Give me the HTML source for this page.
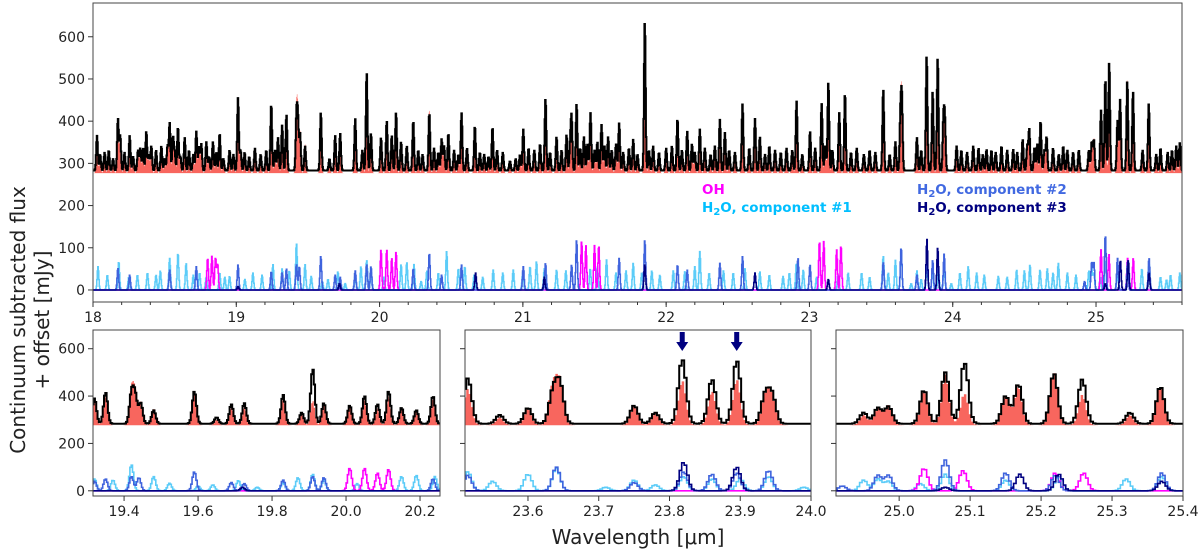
<!DOCTYPE html>
<html>
<head>
<meta charset="utf-8">
<style>
html,body{margin:0;padding:0;background:#fff;}
svg{display:block;font-family:"DejaVu Sans","Liberation Sans",sans-serif;}
.tick{font-size:14px;fill:#222;}
.leg{font-size:13.5px;font-weight:bold;}
</style>
</head>
<body>
<svg id="chart" width="1200" height="552" viewBox="0 0 1200 552" xmlns="http://www.w3.org/2000/svg">
  <g id="panels"></g>
  <text transform="translate(25,320) rotate(-90)" text-anchor="middle" font-size="20" fill="#222">Continuum subtracted flux</text>
  <text transform="translate(49,320) rotate(-90)" text-anchor="middle" font-size="20" fill="#222">+ offset [mJy]</text>
  <text x="638" y="544" text-anchor="middle" font-size="20" fill="#222">Wavelength [μm]</text>
  <g>
    <text class="leg" x="702" y="194" fill="#ff00ff">OH</text>
    <text class="leg" x="702" y="212" fill="#00bfff">H<tspan font-size="10" dy="3">2</tspan><tspan dy="-3">O, component #1</tspan></text>
    <text class="leg" x="917" y="194" fill="#4169e1">H<tspan font-size="10" dy="3">2</tspan><tspan dy="-3">O, component #2</tspan></text>
    <text class="leg" x="917" y="212" fill="#000080">H<tspan font-size="10" dy="3">2</tspan><tspan dy="-3">O, component #3</tspan></text>
  </g>
</svg>
<script>
// ---- data: observed / model line peaks (wavelength µm, flux mJy incl. offset) ----
const obsLambda = [18.028,18.081,18.174,18.19,18.256,18.314,18.349,18.372,18.407,18.477,18.535,18.558,18.593,18.64,18.721,18.756,18.791,18.837,18.884,18.953,19.012,19.058,19.209,19.244,19.291,
19.32,19.35,19.42,19.43,19.445,19.48,19.59,19.65,19.69,19.725,19.83,19.88,19.91,19.94,20.01,20.05,20.085,20.115,20.15,20.19,20.235,
20.347,20.433,20.48,20.572,20.665,20.788,20.91,21.003,21.158,21.235,21.305,21.34,21.375,21.426,21.472,21.549,21.595,21.672,21.77,21.851,21.909,22.079,22.147,22.235,22.375,22.41,22.533,22.62,22.654,22.91,23.004,23.085,23.132,23.208,23.248,
23.515,23.56,23.6,23.635,23.645,23.75,23.78,23.818,23.86,23.895,23.935,23.945,
24.027,24.143,24.236,24.422,24.488,24.534,24.613,24.655,24.771,
24.95,24.97,24.985,25.035,25.065,25.092,25.15,25.168,25.218,25.258,25.325,25.368,25.585];
const obsFlux = [365,325,405,365,365,330,335,375,340,340,395,360,385,360,375,345,350,350,370,330,455,325,330,440,360,
390,415,410,400,370,340,420,310,365,370,405,330,515,370,360,400,365,420,350,340,400,
419,357,370,419,388,385,305,380,453,362,367,405,441,362,419,391,362,395,356,636,340,405,375,380,403,372,440,405,362,447,375,441,492,419,466,
475,320,350,410,450,360,330,555,470,550,400,400,
340,340,332,332,356,380,400,362,340,
330,350,355,425,500,540,400,450,495,470,330,440,348];
const modelFlux = [355,320,395,360,355,325,330,370,335,335,385,355,380,355,370,340,345,345,360,325,440,320,325,425,350,
385,405,425,410,375,345,420,300,355,355,395,325,380,370,360,390,350,400,345,340,390,
430,350,365,405,375,375,300,370,440,355,360,395,430,365,405,380,355,390,350,430,335,395,365,370,395,365,425,400,355,430,365,430,470,405,455,
430,310,345,430,450,355,325,465,420,470,395,395,
335,335,325,325,350,370,390,355,335,
320,345,360,420,490,410,400,440,500,405,320,440,340];
// weaker lines of the observed forest (outside zoom panels)
const weakLambda = [18.05,18.11,18.14,18.22,18.28,18.33,18.39,18.44,18.5,18.52,18.57,18.61,18.67,18.7,18.74,18.81,18.86,18.91,18.98,19.03,19.09,19.13,19.17,19.27,
20.27,20.3,20.38,20.41,20.45,20.52,20.55,20.61,20.7,20.73,20.76,20.82,20.86,20.95,20.98,21.04,21.08,21.12,21.19,21.27,21.33,21.4,21.45,21.5,21.52,21.57,21.62,21.65,21.7,21.74,21.8,21.88,21.95,22.0,22.04,22.11,22.18,22.2,22.27,22.31,22.34,22.44,22.48,22.58,22.69,22.72,22.76,22.8,22.84,22.88,22.95,23.04,23.11,23.16,23.29,23.33,23.38,23.42,23.46,
24.06,24.1,24.18,24.21,24.27,24.3,24.34,24.38,24.45,24.52,24.57,24.59,24.64,24.7,24.74,24.8,24.84,24.88,25.42,25.45,25.5,25.53,25.56];
const weakFlux = [320,330,310,325,315,335,320,330,310,340,325,315,330,320,340,315,325,310,320,330,315,335,320,330,
330,320,335,325,340,330,320,335,325,320,315,330,325,310,320,335,330,345,325,330,340,335,345,330,350,340,330,345,325,335,320,330,325,335,340,330,345,325,335,320,340,330,325,335,320,340,330,325,335,330,320,335,340,330,325,335,320,330,325,
330,325,335,320,330,325,340,330,325,340,335,345,330,335,320,330,325,330,320,335,325,330,340];
// H2O component #1 (light blue)
const c1Lambda = [18.035,18.1,18.18,18.25,18.31,18.38,18.44,18.47,18.535,18.593,18.65,18.7,18.744,18.79,18.884,18.92,18.953,19.06,19.116,19.18,19.256,19.32,19.37,19.42,19.48,19.523,19.6,19.64,19.709,19.76,19.83,19.87,19.91,19.94,20.03,20.15,20.19,20.24,20.29,
20.33,20.41,20.468,20.55,20.595,20.66,20.72,20.793,20.86,20.933,21.0,21.05,21.095,21.15,21.235,21.3,21.47,21.52,21.584,21.65,21.72,21.77,21.83,21.9,21.956,22.05,22.13,22.2,22.235,22.3,22.4,22.468,22.55,22.654,22.72,22.816,22.86,22.909,22.957,23.05,23.2,23.27,23.364,23.42,
23.515,23.55,23.6,23.64,23.71,23.75,23.78,23.82,23.86,23.9,23.94,23.99,
24.05,24.108,24.167,24.22,24.318,24.38,24.446,24.5,24.539,24.609,24.66,24.7,24.737,24.8,24.86,24.95,24.97,24.985,25.03,25.065,25.15,25.225,25.32,25.37,25.45,25.492,25.52,25.585];
const c1Flux = [55,35,67,30,35,40,35,45,75,87,63,35,40,30,40,30,32,25,40,35,60,50,45,110,60,32,20,25,43,15,35,55,70,45,30,60,65,60,20,
45,40,91,50,55,35,30,47,40,47,40,55,67,50,47,45,50,55,71,40,45,63,40,45,35,45,43,55,91,40,45,40,50,43,35,32,40,63,47,30,35,40,40,30,
80,40,70,95,15,45,25,60,50,50,60,15,
40,55,40,35,32,30,47,45,59,47,50,40,63,40,35,45,50,40,30,70,45,60,50,60,30,24,35,40];
// H2O component #2 (royal blue)
const c2Lambda = [18.174,18.256,18.535,18.721,19.012,19.244,19.32,19.35,19.42,19.44,19.59,19.69,19.725,19.83,19.91,19.94,20.235,
20.347,20.433,20.572,21.003,21.158,21.34,21.375,21.672,21.851,22.079,22.147,22.375,22.533,22.62,22.92,23.004,
23.515,23.64,23.75,23.82,23.86,23.895,23.94,24.92,24.97,24.985,25.065,25.15,25.22,25.37];
const c2Flux = [51,35,47,55,59,43,40,50,60,55,80,35,30,45,60,55,50,
87,35,59,55,63,59,118,75,118,59,47,63,79,40,75,59,
65,100,35,80,70,75,85,20,65,65,130,75,65,75];
// H2O component #3 (navy)
const c3Lambda = [19.012,19.72,20.67,21.15,21.851,22.62,23.132,23.82,23.895,25.065,25.17,25.225,25.37];
const c3Flux = [8,15,40,30,60,40,25,120,100,15,70,70,40];
// OH (magenta)
const ohLambda = [18.8,18.83,18.855,18.87,20.01,20.05,20.085,20.115,21.41,21.44,21.5,21.53,23.07,23.1,23.19,23.22,25.035,25.09,25.22,25.26];
const ohFlux = [75,80,75,60,95,95,75,90,115,105,105,105,115,115,95,105,95,85,75,75];

// ---- rendering ----
const NS = "http://www.w3.org/2000/svg";
const SIG = 0.0055, STEP = 0.0035;
function synth(lams, fl, base, lo, hi) {
  const xs = [], ys = [];
  for (let l = lo - STEP; l <= hi + STEP; l += STEP) {
    let v = base;
    for (let i = 0; i < lams.length; i++) {
      const d = (l - lams[i]) / SIG;
      if (Math.abs(d) < 5) v += (fl[i] - base) * Math.exp(-0.5 * d * d);
    }
    xs.push(l); ys.push(v);
  }
  return {xs, ys};
}
function mk(tag, attrs, parent) {
  const e = document.createElementNS(NS, tag);
  for (const k in attrs) e.setAttribute(k, attrs[k]);
  parent.appendChild(e);
  return e;
}
const allObsL = obsLambda.concat(weakLambda);
const allObsF = obsFlux.concat(weakFlux);
const allModF = modelFlux.concat(weakFlux.map(v => v - 5));
const panelsG = document.getElementById("panels");
const panels = [
  {name:"top-panel", x0:93, x1:1182, y0:3, y1:302, xl:[18,25.6], yl:[-28.5,680], xt:[18,19,20,21,22,23,24,25], xfmt:v=>String(v), minor:0.2, yt:[0,100,200,300,400,500,600], ylab:true, lw:2, lwc:1.5},
  {name:"zoom-panel-1", x0:93, x1:440, y0:330, y1:496, xl:[19.316,20.254], yl:[-22,679], xt:[19.4,19.6,19.8,20.0,20.2], xfmt:v=>v.toFixed(1), minor:0, yt:[0,200,400,600], ylab:true, lw:2, lwc:1.6},
  {name:"zoom-panel-2", x0:465, x1:811, y0:330, y1:496, xl:[23.511,24.0], yl:[-22,679], xt:[23.6,23.7,23.8,23.9,24.0], xfmt:v=>v.toFixed(1), minor:0, yt:[0,200,400,600], ylab:false, lw:2, lwc:1.6},
  {name:"zoom-panel-3", x0:836, x1:1183, y0:330, y1:496, xl:[24.911,25.4], yl:[-22,679], xt:[25.0,25.1,25.2,25.3,25.4], xfmt:v=>v.toFixed(1), minor:0, yt:[0,200,400,600], ylab:false, lw:2, lwc:1.6}
];
panels.forEach((p, pi) => {
  const sx = v => p.x0 + (v - p.xl[0]) / (p.xl[1] - p.xl[0]) * (p.x1 - p.x0);
  const sy = v => p.y1 - (v - p.yl[0]) / (p.yl[1] - p.yl[0]) * (p.y1 - p.y0);
  const g = mk("g", {}, panelsG);
  
  
  const cp = mk("clipPath", {id: "clip" + pi}, g);
  mk("rect", {x:p.x0, y:p.y0, width:p.x1 - p.x0, height:p.y1 - p.y0}, cp);
  const plot = mk("g", {"clip-path": "url(#clip" + pi + ")"}, g);
  function stepPath(s) {
    let d = "";
    for (let i = 0; i < s.xs.length; i++) {
      const xa = sx(s.xs[i] - STEP / 2), xb = sx(s.xs[i] + STEP / 2), y = sy(s.ys[i]);
      d += (i === 0 ? "M" : "L") + xa.toFixed(2) + "," + y.toFixed(2) + "L" + xb.toFixed(2) + "," + y.toFixed(2);
    }
    return d;
  }
  const m = synth(allObsL, allModF, 277, p.xl[0], p.xl[1]);
  const fillD = stepPath(m) + "L" + sx(m.xs[m.xs.length-1] + STEP) + "," + sy(277) + "L" + sx(m.xs[0] - STEP) + "," + sy(277) + "Z";
  const fill = mk("path", {d: fillD, fill: "#f8665e", stroke: "none"}, plot);
  
  
  const o = synth(allObsL, allObsF, 283, p.xl[0], p.xl[1]);
  const obs = mk("path", {d: stepPath(o), fill: "none", stroke: "#000", "stroke-width": p.lw, "stroke-linejoin": "miter"}, plot);
  
  
  const comps = [
    ["h2o-component-1-line", c1Lambda, c1Flux, "#5cccf8"],
    ["oh-line", ohLambda, ohFlux, "#ff00ff"],
    ["h2o-component-2-line", c2Lambda, c2Flux, "#3f63dd"],
    ["h2o-component-3-line", c3Lambda, c3Flux, "#000080"]
  ];
  comps.forEach(c => {
    const s = synth(c[1], c[2], 0, p.xl[0], p.xl[1]);
    const e = mk("path", {d: stepPath(s), fill: "none", stroke: c[3], "stroke-width": p.lwc}, plot);
    
    
  });
  const fr = mk("rect", {x:p.x0, y:p.y0, width:p.x1 - p.x0, height:p.y1 - p.y0, fill:"none", stroke:"#444", "stroke-width":1}, g);
  
  
  p.xt.forEach(v => {
    const x = sx(v);
    mk("line", {x1:x, x2:x, y1:p.y1, y2:p.y1 + 5, stroke:"#333"}, g);
    const t = mk("text", {x:x, y:p.y1 + 20, "text-anchor":"middle", class:"tick"}, g);
    t.textContent = p.xfmt(v);
    
    
  });
  if (p.minor) {
    for (let v = p.xl[0]; v <= p.xl[1] + 1e-9; v += p.minor) {
      const x = sx(v);
      mk("line", {x1:x, x2:x, y1:p.y1, y2:p.y1 + 3, stroke:"#333"}, g);
    }
  }
  p.yt.forEach(v => {
    const y = sy(v);
    mk("line", {x1:p.x0 - 5, x2:p.x0, y1:y, y2:y, stroke:"#333"}, g);
    if (p.ylab) {
      const t = mk("text", {x:p.x0 - 8, y:y + 5, "text-anchor":"end", class:"tick"}, g);
      t.textContent = String(v);
      
      
    }
  });
  if (pi === 2) {
    [23.818, 23.895].forEach(l => {
      const x = sx(l);
      const a = mk("path", {d: `M${x-2.5},332 L${x+2.5},332 L${x+2.5},342 L${x+6},342 L${x},351 L${x-6},342 L${x-2.5},342 Z`, fill:"#000080"}, g);
      
      
    });
  }
});
</script>
</body>
</html>
